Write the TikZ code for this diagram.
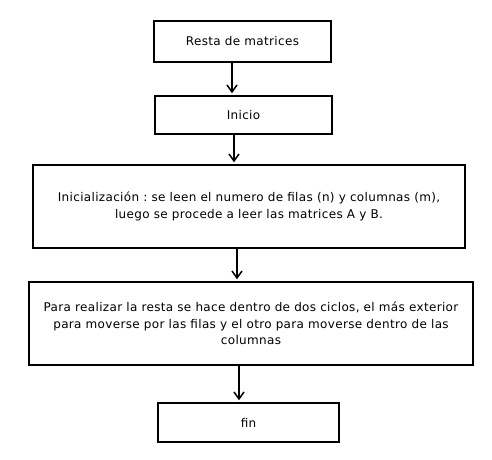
\documentclass[tikz,border=0pt]{standalone}
\usepackage{fontspec}
\setmainfont[LetterSpace=2.8]{DejaVu Sans}
\usetikzlibrary{arrows.meta}
\frenchspacing

\tikzset{
  caja/.style={draw, line width=1.5pt, inner sep=0pt, align=center, font=\fontsize{12}{16.4}\selectfont},
  flecha/.style={-{Straight Barb[length=7pt,width=10pt,line width=1.5pt]}, line width=1.5pt, shorten >=2pt}
}

\begin{document}
\begin{tikzpicture}[x=1pt,y=-1pt]
  \useasboundingbox (0,0) rectangle (492,459);
  \draw (242.5,41.5) node[caja, minimum width=177pt, minimum height=41pt] (titulo) {Resta de matrices};
  \draw (243.5,115) node[caja, minimum width=177pt, minimum height=38pt] (inicio) {Inicio};
  \draw (249,206.5) node[caja, minimum width=432pt, minimum height=83pt] (lectura) {Inicialización : se leen el numero de filas (n) y columnas (m),\\ luego se procede a leer las matrices A y B.};
  \draw (251,323.5) node[caja, minimum width=444pt, minimum height=83pt] (ciclos) {Para realizar la resta se hace dentro de dos ciclos, el más exterior\\ para moverse por las filas y el otro para moverse dentro de las\\ columnas};
  \draw (248.5,422.5) node[caja, minimum width=181pt, minimum height=39pt] (fin) {fin};

  \path[flecha] (titulo.south -| 232,0) edge (inicio.north -| 232,0);
  \path[flecha] (inicio.south -| 234,0) edge (lectura.north -| 234,0);
  \path[flecha] (lectura.south -| 237,0) edge (ciclos.north -| 237,0);
  \path[flecha] (ciclos.south -| 239,0) edge (fin.north -| 239,0);
\end{tikzpicture}
\end{document}
